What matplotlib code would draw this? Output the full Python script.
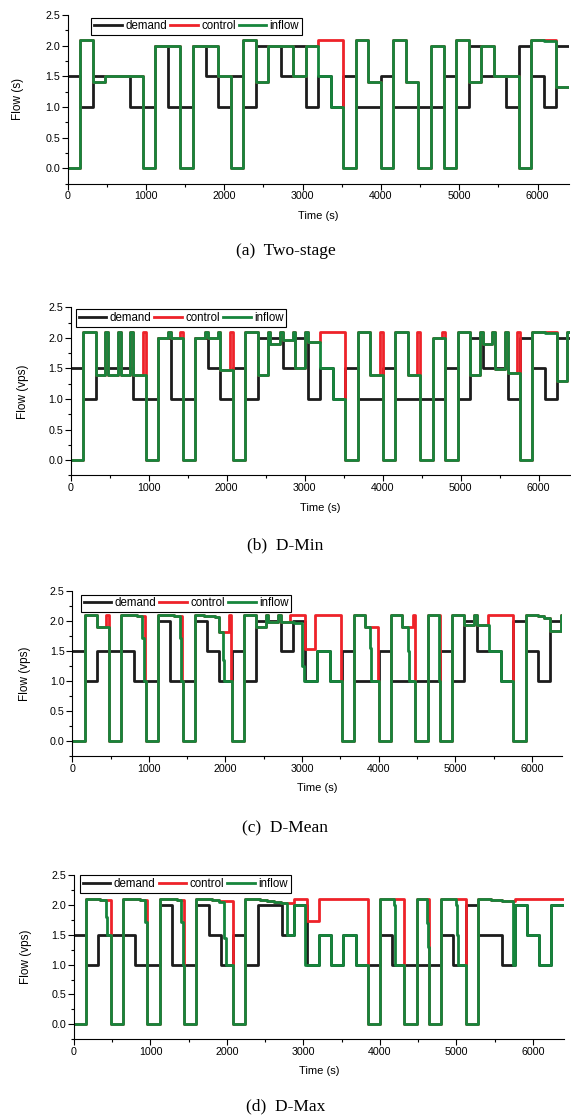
import numpy as np
import matplotlib
matplotlib.use("Agg")
import matplotlib.pyplot as plt
from matplotlib.ticker import MultipleLocator
from matplotlib.lines import Line2D

# ---------------- data ----------------
STEP = 160          # demand interval length (s)
T_END = 6400

demand = [1.5, 1.0, 1.5, 1.5, 1.5, 1.0, 1.0, 2.0, 1.0, 1.0,
          2.0, 1.5, 1.0, 1.5, 1.0, 2.0, 2.0, 1.5, 2.0, 1.0,
          1.5, 1.0, 1.5, 1.0, 1.0, 1.5, 1.0, 1.0, 1.0, 1.0,
          1.5, 1.0, 2.0, 1.5, 1.5, 1.0, 2.0, 1.5, 1.0, 2.0]

# (a) Two-stage : one value per 160 s interval
inflow_a = [0, 2.1, 1.4, 1.5, 1.5, 1.5, 0, 2.0, 2.0, 0,
            2.0, 2.0, 1.5, 0, 2.1, 1.4, 2.0, 2.0, 1.5, 2.0,
            1.5, 1.0, 0, 2.1, 1.4, 0, 2.1, 1.4, 0, 2.0,
            0, 2.1, 1.4, 2.0, 1.5, 1.5, 0, 2.1, 2.08, 1.33]
control_a = [0, 2.1, 1.4, 1.5, 1.5, 1.5, 0, 2.0, 2.0, 0,
             2.0, 2.0, 1.5, 0, 2.1, 1.4, 2.0, 2.0, 1.5, 2.0,
             2.1, 2.1, 0, 2.1, 1.4, 0, 2.1, 1.4, 0, 2.0,
             0, 2.1, 1.4, 2.0, 1.5, 1.5, 0, 2.1, 2.1, 1.33]

# (b) D-Min : per-interval values plus short spikes to 2.1 at these times
inflow_b = [0, 2.1, 1.4, 1.4, 1.4, 1.4, 0, 2.0, 2.0, 0,
            2.0, 2.0, 1.47, 0, 2.1, 1.4, 1.9, 1.97, 1.5, 1.94,
            1.5, 1.0, 0, 2.1, 1.4, 0, 2.1, 1.4, 0, 2.0,
            0, 2.1, 1.4, 1.9, 1.49, 1.42, 0, 2.1, 2.08, 1.3]
control_b = [0, 2.1, 1.4, 1.4, 1.4, 1.4, 0, 2.0, 2.0, 0,
             2.0, 2.0, 1.47, 0, 2.1, 1.4, 1.9, 1.97, 1.5, 1.94,
             2.1, 2.1, 0, 2.1, 1.4, 0, 2.1, 1.4, 0, 2.0,
             0, 2.1, 1.4, 1.9, 1.49, 1.42, 0, 2.1, 2.1, 1.3]
spikes_inflow_b = [480, 640, 800, 1280, 1760, 1920, 2560, 2720, 2880,
                   3040, 5280, 5440, 5600, 6400]
spikes_control_b = [960, 1440, 2080, 4000, 4480, 4800, 5760]

# (c) D-Mean : (time, value) breakpoints
inflow_c = [(0, 0), (160, 2.1), (320, 1.9), (480, 0), (640, 2.1), (850, 2.08),
            (915, 1.72), (935, 1.0), (960, 0), (1120, 2.1), (1330, 2.08),
            (1405, 1.72), (1425, 1.0), (1440, 0), (1600, 2.1), (1720, 2.08),
            (1860, 2.06), (1920, 1.82), (1965, 1.35), (1985, 1.0), (2080, 0),
            (2240, 2.1), (2400, 1.9), (2525, 2.1), (2560, 1.99), (2690, 2.1),
            (2720, 1.99), (2900, 1.97), (3005, 1.25), (3025, 1.0), (3200, 1.5),
            (3360, 1.0), (3520, 0), (3680, 2.1), (3825, 1.9), (3890, 1.55),
            (3905, 1.0), (4000, 0), (4160, 2.1), (4300, 1.9), (4380, 1.5),
            (4395, 1.0), (4480, 0), (4640, 2.1), (4785, 1.3), (4793, 1.0),
            (4800, 0), (4960, 2.1), (5120, 1.93), (5245, 2.1), (5280, 1.93),
            (5440, 1.5), (5600, 1.0), (5760, 0), (5920, 2.1), (6080, 2.08),
            (6160, 2.05), (6240, 1.83), (6385, 2.1)]
control_c = [(0, 0), (160, 2.1), (320, 1.9), (440, 2.1), (480, 0), (640, 2.1),
             (850, 2.08), (955, 1.0), (960, 0), (1120, 2.1), (1330, 2.08),
             (1435, 1.0), (1440, 0), (1600, 2.1), (1720, 2.08), (1860, 2.06),
             (1920, 1.82), (2050, 2.1), (2075, 1.0), (2080, 0), (2240, 2.1),
             (2400, 1.9), (2525, 2.1), (2560, 1.99), (2690, 2.1), (2720, 1.99),
             (2845, 2.1), (3040, 1.53), (3167, 2.1), (3508, 1.0), (3520, 0),
             (3680, 2.1), (3825, 1.9), (3995, 1.0), (4000, 0), (4160, 2.1),
             (4300, 1.9), (4445, 2.1), (4475, 1.0), (4480, 0), (4640, 2.1),
             (4797, 1.0), (4800, 0), (4960, 2.1), (5120, 1.93), (5245, 2.1),
             (5280, 1.93), (5425, 2.1), (5755, 1.0), (5760, 0), (5920, 2.1),
             (6080, 2.08), (6160, 2.05), (6240, 1.83), (6385, 2.1)]

# (d) D-Max : (time, value) breakpoints
inflow_d = [(0, 0), (160, 2.1), (340, 2.08), (418, 1.8), (436, 1.5), (480, 0),
            (640, 2.1), (860, 2.08), (930, 1.72), (950, 1.0), (960, 0),
            (1120, 2.1), (1350, 2.08), (1405, 1.72), (1420, 1.0), (1440, 0),
            (1600, 2.1), (1800, 2.08), (1900, 2.05), (1960, 1.45), (1990, 1.0),
            (2080, 0), (2240, 2.1), (2430, 2.08), (2520, 2.06), (2620, 2.05),
            (2700, 2.03), (2790, 1.5), (2880, 2.0), (3025, 1.0), (3200, 1.5),
            (3360, 1.0), (3520, 1.5), (3680, 1.0), (3840, 0), (4000, 2.1),
            (4180, 2.0), (4200, 1.0), (4320, 0), (4480, 2.1), (4615, 1.7),
            (4630, 1.3), (4640, 0), (4800, 2.1), (4990, 2.0), (5005, 1.5),
            (5020, 1.0), (5120, 0), (5280, 2.1), (5450, 2.08), (5600, 2.06),
            (5735, 1.0), (5760, 2.0), (5920, 1.5), (6080, 1.0), (6240, 2.0)]
control_d = [(0, 0), (160, 2.1), (340, 2.08), (480, 0), (640, 2.1), (860, 2.08),
             (960, 0), (1120, 2.1), (1350, 2.08), (1440, 0), (1600, 2.1),
             (1800, 2.08), (1900, 2.07), (2080, 0), (2240, 2.1), (2430, 2.08),
             (2520, 2.06), (2620, 2.05), (2700, 2.03), (2880, 2.1), (3040, 1.73),
             (3200, 2.1), (3840, 0), (4000, 2.1), (4320, 0), (4480, 2.1),
             (4640, 0), (4800, 2.1), (5120, 0), (5280, 2.1), (5450, 2.08),
             (5600, 2.07), (5760, 2.1)]

captions = ["(a)  Two-stage", "(b)  D-Min", "(c)  D-Mean", "(d)  D-Max"]
ylabels = ["Flow (s)", "Flow (vps)", "Flow (vps)", "Flow (vps)"]
series_names = ["demand", "control", "inflow"]

# ---------------- helpers ----------------
def intervals(vals):
    return [(i * STEP, v) for i, v in enumerate(vals)]

def with_spikes(points, spikes, peak=2.1, width=35):
    return sorted(points + [(s - width, peak) for s in spikes], key=lambda p: p[0])

def draw(ax, points, **kw):
    t = [p[0] for p in points] + [T_END]
    v = [p[1] for p in points] + [points[-1][1]]
    ax.step(t, v, where="post", **kw)

# ---------------- figure ----------------
plt.rcParams["font.family"] = ["Liberation Sans", "DejaVu Sans"]
fig = plt.figure(figsize=(5.71, 11.19), dpi=100)

C_DEM = "#1c1c1c"
C_CTL = "#ee2229"
C_INF = "#16853c"
LW = 2.0

panel_data = [
    (intervals(control_a), intervals(inflow_a)),
    (with_spikes(intervals(control_b), spikes_control_b + spikes_inflow_b),
     with_spikes(intervals(inflow_b), spikes_inflow_b)),
    (control_c, inflow_c),
    (control_d, inflow_d),
]

rects = [[0.1186, 0.8359, 0.8776, 0.1507],
         [0.1238, 0.5752, 0.8743, 0.1501],
         [0.1266, 0.3244, 0.8585, 0.1475],
         [0.1296, 0.0713, 0.8574, 0.1467]]
leg_pos = [(0.047, 0.985), (0.010, 0.99), (0.017, 0.978), (0.012, 0.998)]
ylab_x = [-0.088, -0.083, -0.085, -0.085]
cap_y = [0.7757, 0.5130, 0.2600, 0.0116]

for k in range(4):
    ax = fig.add_axes(rects[k])
    ctl, inf = panel_data[k]
    draw(ax, intervals(demand), color=C_DEM, lw=LW, label=series_names[0])
    draw(ax, ctl, color=C_CTL, lw=LW, label=series_names[1])
    draw(ax, inf, color=C_INF, lw=LW, label=series_names[2])

    ax.set_xlim(0, T_END)
    ax.set_ylim(-0.25, 2.5)
    for s in ["top", "right"]:
        ax.spines[s].set_visible(False)
    for s in ["left", "bottom"]:
        ax.spines[s].set_linewidth(0.8)
    ax.xaxis.set_major_locator(MultipleLocator(1000))
    ax.xaxis.set_minor_locator(MultipleLocator(500))
    ax.yaxis.set_major_locator(MultipleLocator(0.5))
    ax.yaxis.set_minor_locator(MultipleLocator(0.25))
    ax.yaxis.set_major_formatter(matplotlib.ticker.FormatStrFormatter("%.1f"))
    ax.tick_params(which="major", direction="out", length=4, width=0.8,
                   labelsize=7.7, pad=1.5)
    ax.tick_params(which="minor", direction="out", length=2.2, width=0.8)

    ax.set_ylabel(ylabels[k], fontsize=8.5)
    ax.yaxis.set_label_coords(ylab_x[k], 0.5)
    ax.set_xlabel("Time (s)", fontsize=8)
    ax.xaxis.set_label_coords(0.5, -0.165)

    handles = [Line2D([], [], color=c, lw=LW) for c in (C_DEM, C_CTL, C_INF)]
    leg = ax.legend(handles, series_names, loc="upper left",
                    bbox_to_anchor=leg_pos[k], ncol=3, fontsize=8.3,
                    frameon=True, fancybox=False, framealpha=1,
                    edgecolor="black", handlelength=2.4, handletextpad=0.3,
                    columnspacing=0.25, borderpad=0.25, borderaxespad=0.0)
    leg.get_frame().set_linewidth(0.8)

    fig.text(0.5, cap_y[k], captions[k], ha="center", va="center",
             fontsize=12.5, family=["Liberation Serif", "DejaVu Serif"])

fig.savefig("out.png", dpi=100)
